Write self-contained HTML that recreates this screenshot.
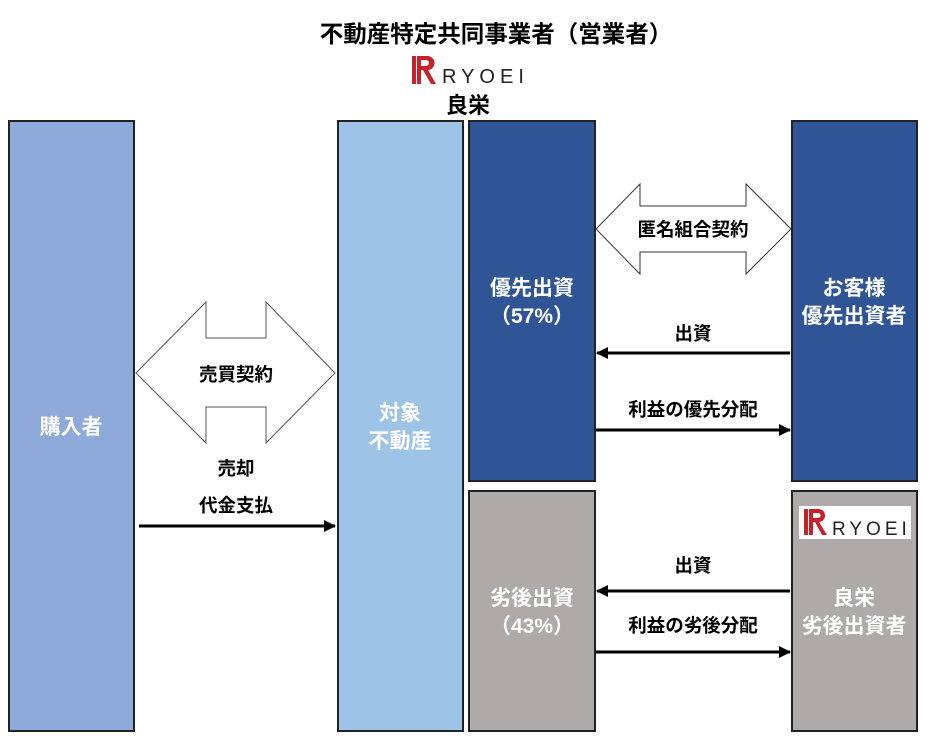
<!DOCTYPE html>
<html><head><meta charset="utf-8"><style>
body{margin:0;background:#fff;}
svg text{font-family:"Liberation Sans","Noto Sans CJK JP",sans-serif;font-weight:bold;}
</style></head><body>
<svg width="937" height="749" viewBox="0 0 937 749" xmlns="http://www.w3.org/2000/svg">
<defs><marker id="ah" markerWidth="12" markerHeight="12" refX="11" refY="6" orient="auto" markerUnits="userSpaceOnUse"><path d="M0,0 L12,6 L0,12 z" fill="#000"/></marker></defs>
<text x="496" y="42" font-size="23.5" text-anchor="middle" fill="#000">不動産特定共同事業者（営業者）</text>
<g transform="translate(411,56)">
<path d="M1,0 h4 v28 h-4 z M6,0 h10 a7,7 0 0 1 1,14 l8,14 h-5 l-8,-14 h-2 v14 h-4 z M10,4 v6 h5 a3,3 0 0 0 0,-6 z" fill="#c9202a"/>
</g>
<text x="442" y="83" font-size="20" fill="#222" letter-spacing="5" style="font-weight:normal">RYOEI</text>
<text x="468" y="113" font-size="22" text-anchor="middle" fill="#000">良栄</text>
<g stroke="#222" stroke-width="2">
<rect x="9" y="121" width="125" height="610" fill="#8eaadb"/>
<rect x="338" y="121" width="125" height="610" fill="#9dc3e6"/>
<rect x="469" y="121" width="126" height="360" fill="#2f5597"/>
<rect x="469" y="491" width="126" height="240" fill="#aeaaaa"/>
<rect x="792" y="121" width="125" height="360" fill="#2f5597"/>
<rect x="792" y="491" width="125" height="240" fill="#aeaaaa"/>
</g>
<rect x="799" y="506" width="112" height="33" fill="#fff"/>
<g transform="translate(803,509)"><path d="M1,0 h4 v26 h-4 z M6,0 h9 a6.5,6.5 0 0 1 1,13 l8,13 h-5 l-7,-13 h-2 v13 h-4 z M10,4 v5 h5 a2.5,2.5 0 0 0 0,-5 z" fill="#c9202a"/></g>
<text x="832" y="535" font-size="19" fill="#222" letter-spacing="4" style="font-weight:normal">RYOEI</text>
<path d="M136,373 L206,302 L206,338 L266,338 L266,302 L335,373 L266,443 L266,407 L206,407 L206,443 Z" fill="#fff" stroke="#555" stroke-width="1"/>
<path d="M596,229 L640,184 L640,206 L746,206 L746,184 L791,229 L746,274 L746,252 L640,252 L640,274 Z" fill="#fff" stroke="#333" stroke-width="1"/>
<g stroke="#000" stroke-width="3">
<line x1="139" y1="526" x2="335" y2="526" marker-end="url(#ah)"/>
<line x1="790" y1="353" x2="597" y2="353" marker-end="url(#ah)"/>
<line x1="596" y1="430" x2="790" y2="430" marker-end="url(#ah)"/>
<line x1="790" y1="591" x2="597" y2="591" marker-end="url(#ah)"/>
<line x1="596" y1="652" x2="790" y2="652" marker-end="url(#ah)"/>
</g>
<g font-size="18.5" text-anchor="middle" fill="#000">
<text x="236" y="381">売買契約</text>
<text x="236" y="475">売却</text>
<text x="236" y="512">代金支払</text>
<text x="693" y="236">匿名組合契約</text>
<text x="693" y="340">出資</text>
<text x="693" y="416">利益の優先分配</text>
<text x="693" y="572">出資</text>
<text x="693" y="632">利益の劣後分配</text>
</g>
<g font-size="21" text-anchor="middle" fill="#fff">
<text x="71" y="434">購入者</text>
<text x="400" y="420">対象</text>
<text x="400" y="448">不動産</text>
<text x="532" y="295">優先出資</text>
<text x="532" y="323">（57%）</text>
<text x="854" y="295">お客様</text>
<text x="854" y="323">優先出資者</text>
<text x="532" y="605">劣後出資</text>
<text x="532" y="633">（43%）</text>
<text x="854" y="605">良栄</text>
<text x="854" y="633">劣後出資者</text>
</g>
</svg>
</body></html>
